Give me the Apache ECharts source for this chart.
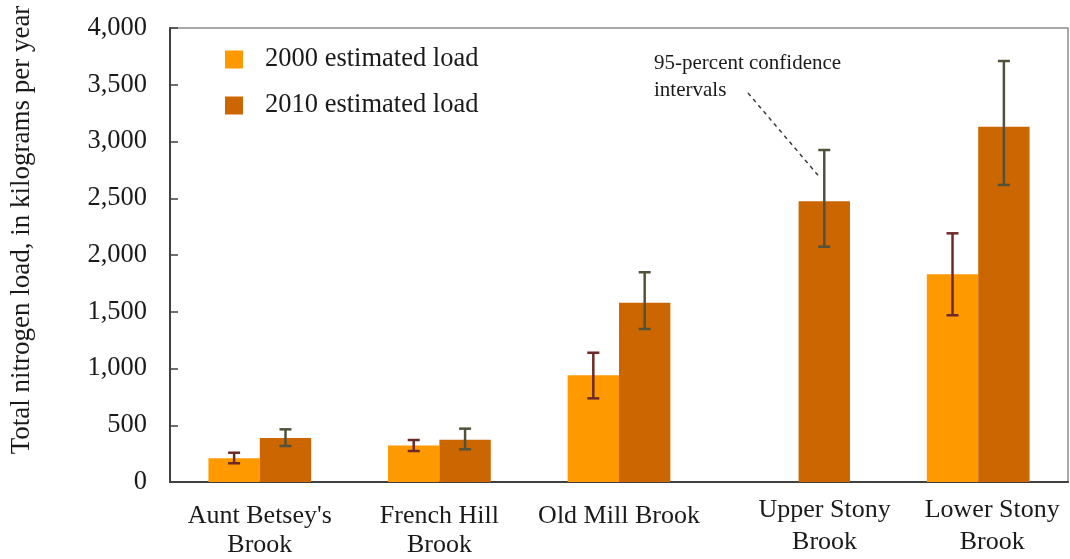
<!DOCTYPE html>
<html>
<head>
<meta charset="utf-8">
<script src="https://cdn.jsdelivr.net/npm/echarts@6/dist/echarts.min.js"></script>
<style>
  html, body { margin: 0; padding: 0; background: #fff; }
  #chart { width: 1070px; height: 559px; }
</style>
</head>
<body>
<div id="chart"></div>
<script>
// Brook names (category axis)
const categories = ["Aunt Betsey's\nBrook", "French Hill\nBrook", "Old Mill Brook", "Upper Stony\nBrook", "Lower Stony\nBrook"];
// Estimated total nitrogen loads, kg/yr
const load2000 = [210, 322, 940, null, 1830];
const load2010 = [388, 373, 1580, 2473, 3130];
// 95-percent confidence interval bounds
const low2000 = [165, 273, 737, null, 1469];
const high2000 = [258, 370, 1139, null, 2191];
const low2010 = [317, 288, 1348, 2073, 2617];
const high2010 = [464, 470, 1848, 2925, 3709];
// Y axis ticks
const yTicks = [0, 500, 1000, 1500, 2000, 2500, 3000, 3500, 4000];

const seriesNames = ['2000 estimated load', '2010 estimated load'];
const barColors = ['#FF9900', '#CC6600'];
const errColors = ['#6E2A26', '#52523A'];
const BAR_FRACTION = 0.286;
const FONT = '"Liberation Serif", "Times New Roman", serif';

function errData(low, high) {
  const out = [];
  low.forEach((v, i) => { if (v != null) out.push([i, v, high[i]]); });
  return out;
}

function errRenderer(side, color) {
  return function (params, api) {
    const idx = api.value(0);
    const band = api.size([1, 0])[0];
    const dx = side * band * BAR_FRACTION / 2;
    const lo = api.coord([idx, api.value(1)]);
    const hi = api.coord([idx, api.value(2)]);
    const x = lo[0] + dx;
    const cap = 6;
    const style = { stroke: color, lineWidth: 2.5 };
    return {
      type: 'group',
      children: [
        { type: 'line', shape: { x1: x, y1: lo[1], x2: x, y2: hi[1] }, style },
        { type: 'line', shape: { x1: x - cap, y1: lo[1], x2: x + cap, y2: lo[1] }, style },
        { type: 'line', shape: { x1: x - cap, y1: hi[1], x2: x + cap, y2: hi[1] }, style }
      ]
    };
  };
}

// Category labels: the Stony Brook names sit over their 2010 bars
function categoryLabel(value) {
  const lines = value.split('\n');
  if (value.indexOf('Upper Stony') === 0) return lines.map(l => '{u|' + l + '}').join('\n');
  if (value.indexOf('Lower Stony') === 0) return lines.map(l => '{w|' + l + '}').join('\n');
  return lines.map((l, i) => (i === 0 ? '{a|' : '{b|') + l + '}').join('\n');
}

const labelBase = { fontFamily: FONT, fontSize: 26, color: '#1a1a1a' };

const chart = echarts.init(document.getElementById('chart'), null, { renderer: 'canvas' });

chart.setOption({
  animation: false,
  backgroundColor: '#fff',
  textStyle: { fontFamily: FONT },
  grid: {
    left: 170, right: 2, top: 28, bottom: 77,
    outerBoundsMode: 'none',
    show: true, borderColor: '#8c8c8c', borderWidth: 1.5
  },
  legend: {
    orient: 'vertical',
    left: 220, top: 41,
    itemWidth: 18, itemHeight: 18, itemGap: 19,
    icon: 'rect',
    data: seriesNames,
    textStyle: { fontFamily: FONT, fontSize: 26.5, color: '#1a1a1a', padding: [0, 0, 0, 17] }
  },
  xAxis: {
    type: 'category',
    data: categories,
    axisLine: { lineStyle: { color: '#404040', width: 2 } },
    axisTick: { inside: true, length: 6, lineStyle: { color: '#404040', width: 1.5 } },
    axisLabel: {
      fontFamily: FONT, fontSize: 26, color: '#1a1a1a', margin: 12, interval: 0,
      formatter: categoryLabel,
      rich: {
        a: Object.assign({ lineHeight: 44 }, labelBase),
        b: Object.assign({ lineHeight: 14 }, labelBase),
        u: Object.assign({ lineHeight: 32, padding: [0, 0, 0, 52] }, labelBase),
        w: Object.assign({ lineHeight: 32, padding: [0, 0, 0, 28] }, labelBase)
      }
    }
  },
  yAxis: {
    type: 'value',
    min: yTicks[0], max: yTicks[yTicks.length - 1], interval: 500,
    axisLine: { show: true, lineStyle: { color: '#404040', width: 2 } },
    axisTick: { show: true, inside: true, length: 8, lineStyle: { color: '#404040', width: 1.5 } },
    splitLine: { show: false },
    axisLabel: {
      fontFamily: FONT, fontSize: 26.5, color: '#1a1a1a', margin: 23,
      formatter: v => v.toLocaleString('en-US')
    }
  },
  series: [
    {
      name: seriesNames[0], type: 'bar', data: load2000,
      barWidth: (BAR_FRACTION * 100) + '%', barGap: '0%',
      itemStyle: { color: barColors[0] }
    },
    {
      name: seriesNames[1], type: 'bar', data: load2010,
      barWidth: (BAR_FRACTION * 100) + '%', barGap: '0%',
      itemStyle: { color: barColors[1] }
    },
    {
      type: 'custom', name: 'ci2000', data: errData(low2000, high2000),
      encode: { x: 0, y: [1, 2] }, z: 5,
      renderItem: errRenderer(-1, errColors[0])
    },
    {
      type: 'custom', name: 'ci2010', data: errData(low2010, high2010),
      encode: { x: 0, y: [1, 2] }, z: 5,
      renderItem: errRenderer(1, errColors[1])
    }
  ]
});

// Axis title and the confidence-interval note with its dashed pointer
const band = chart.convertToPixel({ xAxisIndex: 0 }, 1) - chart.convertToPixel({ xAxisIndex: 0 }, 0);
const tipX = chart.convertToPixel({ xAxisIndex: 0 }, 3) + band * BAR_FRACTION / 2 - 6;
const tipY = chart.convertToPixel({ yAxisIndex: 0 }, 2700);

chart.setOption({
  graphic: [
    {
      type: 'text', x: 22, y: 230, rotation: Math.PI / 2,
      style: {
        text: 'Total nitrogen load, in kilograms per year',
        font: '27px ' + FONT, fill: '#1a1a1a', align: 'center', verticalAlign: 'middle'
      }
    },
    {
      type: 'text', left: 654, top: 50,
      style: {
        text: '95-percent confidence\nintervals',
        font: '21px ' + FONT, fill: '#1a1a1a', lineHeight: 27
      }
    },
    {
      type: 'line',
      shape: { x1: 748, y1: 93, x2: tipX, y2: tipY },
      style: { stroke: '#3a3a3a', lineWidth: 1.5, lineDash: [4, 4] }
    }
  ]
});
</script>
</body>
</html>
